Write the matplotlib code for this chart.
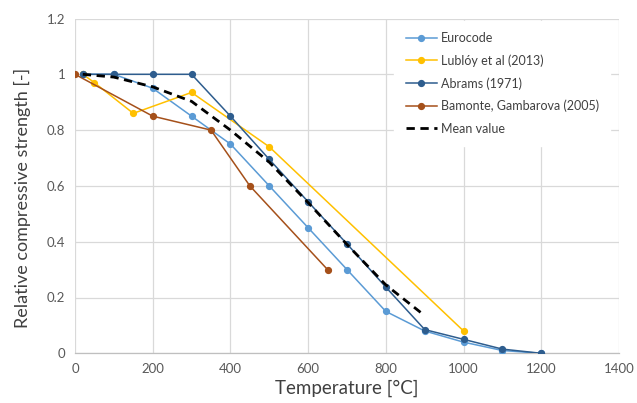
import matplotlib
matplotlib.use("Agg")
import matplotlib.pyplot as plt

# Data
euro_x = [20, 100, 200, 300, 400, 500, 600, 700, 800, 900, 1000, 1100, 1200]
euro_y = [1.0, 1.0, 0.95, 0.85, 0.75, 0.60, 0.45, 0.30, 0.15, 0.08, 0.04, 0.01, 0.0]

lub_x = [20, 50, 150, 300, 500, 1000]
lub_y = [1.0, 0.97, 0.86, 0.935, 0.74, 0.08]

abr_x = [20, 100, 200, 300, 400, 500, 600, 700, 800, 900, 1000, 1100, 1200]
abr_y = [1.0, 1.0, 1.0, 1.0, 0.85, 0.695, 0.543, 0.392, 0.237, 0.085, 0.05, 0.015, 0.0]

bam_x = [0, 200, 350, 450, 650]
bam_y = [1.0, 0.85, 0.80, 0.60, 0.30]

mean_x = [20, 100, 200, 300, 400, 500, 600, 700, 800, 900]
mean_y = [1.0, 0.99, 0.955, 0.903, 0.80, 0.685, 0.54, 0.39, 0.245, 0.135]

x_ticks = [0, 200, 400, 600, 800, 1000, 1200, 1400]
y_ticks = [0, 0.2, 0.4, 0.6, 0.8, 1.0, 1.2]
y_labels = ["0", "0.2", "0.4", "0.6", "0.8", "1", "1.2"]

plt.rcParams['font.family'] = ['Lato', 'DejaVu Sans']

fig = plt.figure(figsize=(6.37, 4.03), dpi=100)
ax = fig.add_axes([75/637, 1 - 353.3/403, (619 - 75)/637, (353.3 - 18.5)/403])

lw = 1.1
ms = 4.2
ax.plot(euro_x, euro_y, color="#5B9BD5", lw=lw, marker="o", ms=ms, label="Eurocode", zorder=3)
ax.plot(lub_x, lub_y, color="#FFC000", lw=lw, marker="o", ms=ms, label="Lublóy et al (2013)", zorder=3)
ax.plot(abr_x, abr_y, color="#2E5D8E", lw=lw, marker="o", ms=ms, label="Abrams (1971)", zorder=4)
ax.plot(bam_x, bam_y, color="#A5501A", lw=lw, marker="o", ms=ms, label="Bamonte, Gambarova (2005)", zorder=3)
ax.plot(mean_x, mean_y, color="black", lw=2.0, ls=(0, (3, 2)), label="Mean value", zorder=5)

ax.set_xlim(0, 1400)
ax.set_ylim(0, 1.2)
ax.set_xticks(x_ticks)
ax.set_yticks(y_ticks)
ax.set_yticklabels(y_labels)
ax.grid(True, color="#D9D9D9", lw=0.9)
ax.set_axisbelow(True)
for s in ["top", "right", "left"]:
    ax.spines[s].set_visible(False)
ax.spines["bottom"].set_color("#BFBFBF")
ax.spines["bottom"].set_linewidth(0.9)
ax.tick_params(axis="both", length=0, labelsize=9.5, colors="#595959", pad=7)
ax.set_xlabel("Temperature [°C]", fontsize=13.5, color="#404040", labelpad=3)
ax.set_ylabel("Relative compressive strength [-]", fontsize=13, color="#404040")
ax.yaxis.set_label_coords(-0.081, 0.465)

leg = ax.legend(loc="upper right", bbox_to_anchor=(0.995, 1.012), fontsize=9, frameon=True,
                fancybox=False, edgecolor="white", facecolor="white", framealpha=1,
                handlelength=2.5, labelspacing=0.82, handletextpad=0.3, borderpad=0.9)
for t in leg.get_texts():
    t.set_color("#404040")

fig.savefig("out.png", dpi=100)
